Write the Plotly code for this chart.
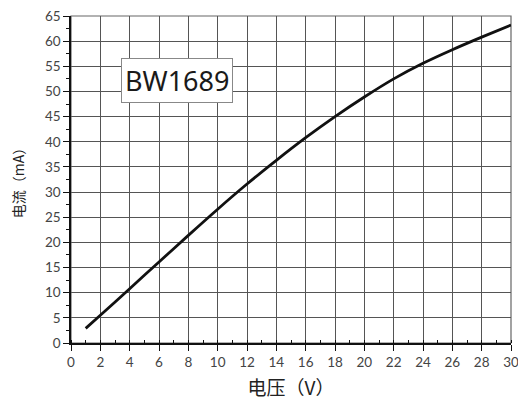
import plotly.graph_objects as go

voltage = [1, 2, 4, 6, 8, 10, 12, 14, 16, 18, 20, 22, 24, 26, 28, 30]
current = [2.9, 5.5, 10.8, 16.1, 21.4, 26.6, 31.6, 36.3, 40.8, 45.0, 48.9, 52.5, 55.6, 58.3, 60.8, 63.2]
label = "BW1689"
x_title = "电压（V）"
y_title = "电流（mA）"

fig = go.Figure()
fig.add_trace(go.Scatter(x=voltage, y=current, mode="lines",
                         line=dict(color="#111111", width=2.8, shape="spline", smoothing=0.8),
                         showlegend=False, hoverinfo="skip"))

fig.add_annotation(x=7.2, y=52.2, xref="x", yref="y", text=label, showarrow=False,
                   font=dict(family="Noto Sans, Lato, sans-serif", size=27, color="#1a1a1a"),
                   bgcolor="white", bordercolor="#888888", borderwidth=1, borderpad=3)

axis_font = dict(family="Lato, Noto Sans, sans-serif", size=13.5, color="#444444")
fig.update_xaxes(range=[0, 30], dtick=2, tick0=0, showgrid=True, gridcolor="#555555", gridwidth=1,
                 showline=True, linecolor="#111111", linewidth=1.5, mirror=False,
                 ticks="outside", ticklen=6, tickcolor="#111111", tickfont=axis_font,
                 ticklabeloverflow="allow",
                 minor=dict(dtick=1, ticks="inside", ticklen=3, tickcolor="#111111", showgrid=False),
                 zeroline=False, automargin=False,
                 title=dict(text=x_title, font=dict(family="Noto Sans CJK SC", size=19, color="#222222"), standoff=15))
fig.update_yaxes(range=[0, 65], dtick=5, tick0=0, showgrid=True, gridcolor="#555555", gridwidth=1,
                 showline=True, linecolor="#111111", linewidth=1.5, mirror=False,
                 ticks="outside", ticklen=6, tickcolor="#111111", tickfont=axis_font,
                 ticklabeloverflow="allow",
                 minor=dict(dtick=2.5, ticks="outside", ticklen=3, tickcolor="#111111", showgrid=False),
                 zeroline=False, automargin=False,
                 title=dict(text=y_title, font=dict(family="Noto Sans CJK SC", size=14, color="#222222"), standoff=17))

# right/top frame in grey
fig.add_shape(type="rect", xref="paper", yref="paper", x0=0, y0=0, x1=1, y1=1,
              line=dict(color="#666666", width=1.2), layer="below")

# page body has an 8px margin, so the figure is sized/offset to compensate
fig.update_layout(width=518, height=392, margin=dict(l=63, r=15, t=8, b=57, autoexpand=False),
                  plot_bgcolor="white", paper_bgcolor="white")

fig.write_html("out.html")
